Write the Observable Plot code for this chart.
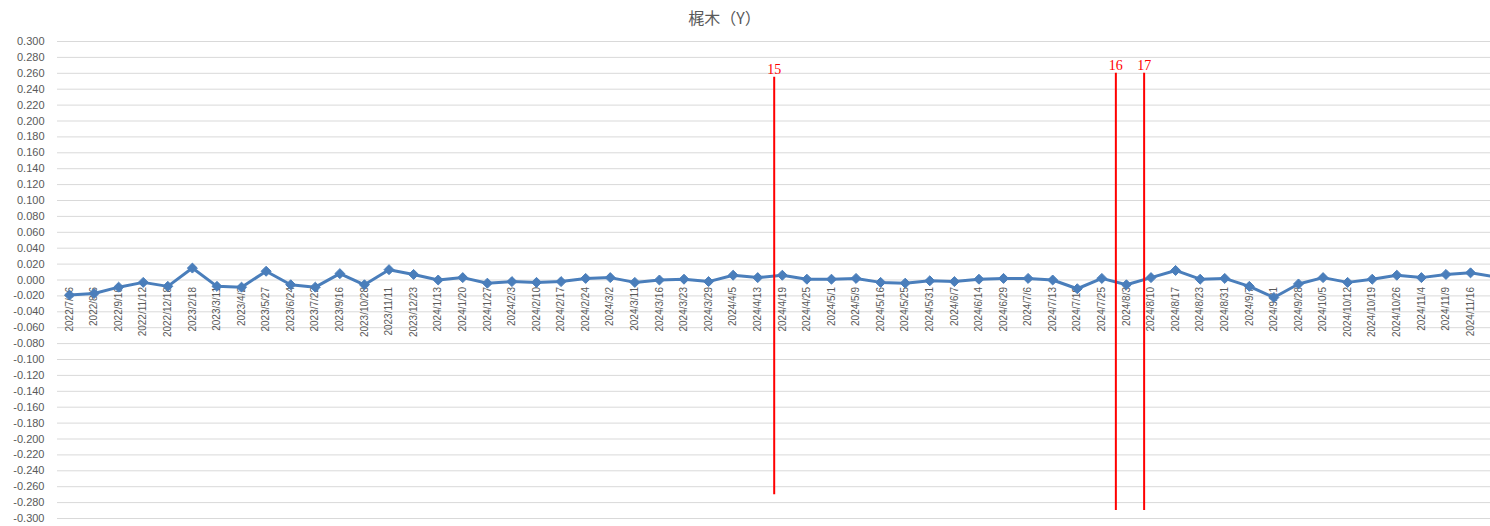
<!DOCTYPE html>
<html>
<head>
<meta charset="utf-8">
<script src="https://cdn.jsdelivr.net/npm/d3@7"></script>
<script src="https://cdn.jsdelivr.net/npm/@observablehq/plot@0.6"></script>
<style>
  html, body { margin: 0; padding: 0; background: #fff; overflow: hidden; }
  #title { width: 1449px; height: 32px; line-height: 34px; text-align: center; font-family: "Noto Sans CJK JP", "Noto Sans", sans-serif; font-size: 16px; color: #595959; }
  #chart svg { display: block; }
</style>
</head>
<body>
<div id="title">梶木（Y）</div>
<div id="chart"></div>
<script>
const categories = [
  "2022/7/16","2022/8/6","2022/9/10","2022/11/12","2022/12/18","2023/2/18","2023/3/11","2023/4/2",
  "2023/5/27","2023/6/24","2023/7/22","2023/9/16","2023/10/28","2023/11/11","2023/12/23","2024/1/13",
  "2024/1/20","2024/1/27","2024/2/3","2024/2/10","2024/2/17","2024/2/24","2024/3/2","2024/3/11",
  "2024/3/16","2024/3/23","2024/3/29","2024/4/5","2024/4/13","2024/4/19","2024/4/25","2024/5/1",
  "2024/5/9","2024/5/16","2024/5/25","2024/5/31","2024/6/7","2024/6/14","2024/6/29","2024/7/6",
  "2024/7/13","2024/7/19","2024/7/25","2024/8/3","2024/8/10","2024/8/17","2024/8/23","2024/8/31",
  "2024/9/7","2024/9/21","2024/9/28","2024/10/5","2024/10/12","2024/10/19","2024/10/26","2024/11/4",
  "2024/11/9","2024/11/16","2024/11/23"
];
const values = [
  -0.019,-0.017,-0.009,-0.003,-0.008,0.015,-0.008,-0.009,
  0.011,-0.006,-0.009,0.008,-0.006,0.013,0.007,0.000,
  0.003,-0.004,-0.002,-0.003,-0.002,0.002,0.003,-0.003,
  0.000,0.001,-0.002,0.006,0.003,0.006,0.001,0.001,
  0.002,-0.003,-0.004,-0.001,-0.002,0.001,0.002,0.002,
  0.000,-0.011,0.002,-0.006,0.003,0.012,0.001,0.002,
  -0.008,-0.022,-0.005,0.003,-0.003,0.001,0.006,0.003,
  0.007,0.009,0.004
];
const yTicks = d3.range(-300, 301, 20).map(v => v / 1000);

// red event markers (position given as fractional category index)
const eventLabels = ["15", "16", "17"];
const eventPos = [28.67, 42.57, 43.72];
const eventTop = [0.255, 0.260, 0.260];
const eventBottom = [-0.270, -0.290, -0.290];

const series = categories.map((c, i) => ({i, label: c, value: values[i]}));
const events = eventLabels.map((l, k) => ({label: l, x: eventPos[k], y1: eventBottom[k], y2: eventTop[k]}));
// the last category lies past the right edge of the cropped chart: its label is not shown
const labelled = series.slice(0, categories.length - 1);

const blue = "#4a7ebb";
const gray = "#595959";
const font = "Liberation Sans, Arial, sans-serif";

const chart = Plot.plot({
  width: 1490,
  height: 494,
  marginTop: 9,
  marginBottom: 8,
  marginLeft: 57,
  marginRight: 0,
  style: {fontFamily: font, background: "#fff"},
  x: {domain: [-0.5, categories.length - 0.5], range: [56.7, 56.7 + categories.length * 24.58], axis: null},
  y: {domain: [-0.3, 0.3], axis: null},
  marks: [
    Plot.gridY(yTicks, {stroke: "#d9d9d9", strokeOpacity: 1, strokeWidth: 1}),
    Plot.axisY(yTicks, {
      tickSize: 0, tickPadding: 13, fontSize: 11, fill: gray,
      tickFormat: d => d.toFixed(3), label: null
    }),
    Plot.text(labelled, {
      x: "i", y: () => 0, text: "label", rotate: -90, textAnchor: "end",
      dy: 7, fontSize: 10, fill: gray
    }),
    Plot.line(series, {x: "i", y: "value", stroke: blue, strokeWidth: 3, strokeLinejoin: "round"}),
    Plot.dot(series, {x: "i", y: "value", symbol: "diamond2", r: 4.5, fill: blue, stroke: blue, strokeWidth: 1}),
    Plot.ruleX(events, {x: "x", y1: "y1", y2: "y2", stroke: "#ff0000", strokeWidth: 2}),
    Plot.text(events, {
      x: "x", y: "y2", text: "label", lineAnchor: "bottom", dy: -3,
      fill: "#ff0000", fontSize: 14, fontFamily: "Liberation Serif, DejaVu Serif, serif"
    })
  ]
});
document.getElementById("chart").appendChild(chart);
</script>
</body>
</html>
